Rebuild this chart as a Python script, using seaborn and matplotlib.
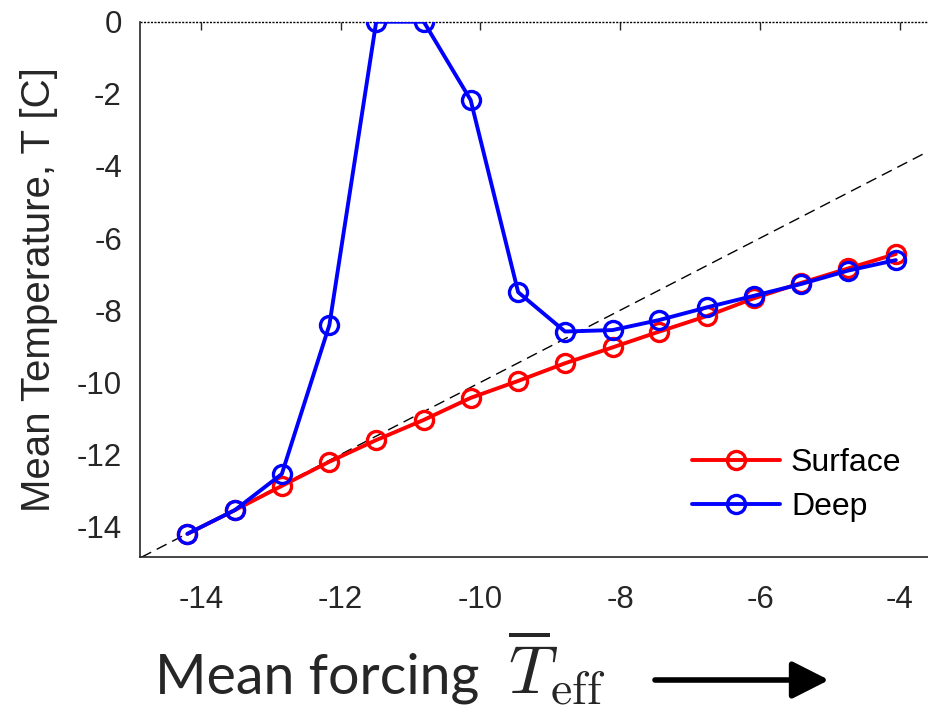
import matplotlib
matplotlib.use("Agg")
import matplotlib.pyplot as plt
import seaborn as sns
import pandas as pd

# ---- data ----
forcing = [-14.19, -13.51, -12.84, -12.16, -11.49, -10.81, -10.14, -9.46,
           -8.79, -8.11, -7.44, -6.76, -6.09, -5.41, -4.74, -4.06]
surface = [-14.20, -13.54, -12.87, -12.20, -11.60, -11.04, -10.43, -9.96,
           -9.47, -9.03, -8.59, -8.16, -7.67, -7.24, -6.84, -6.44]
deep = [-14.20, -13.54, -12.54, -8.41, 0.0, 0.0, -2.17, -7.50,
        -8.59, -8.55, -8.27, -7.92, -7.60, -7.27, -6.90, -6.61]
series_names = ["Surface", "Deep"]
series_colors = ["#ff0000", "#0000ff"]
xticks = [-14, -12, -10, -8, -6, -4]
yticks = [0, -2, -4, -6, -8, -10, -12, -14]

df = pd.DataFrame({"forcing": forcing, "Surface": surface, "Deep": deep})

sns.set_style("white")
plt.rcParams["font.family"] = ["Liberation Sans", "DejaVu Sans"]
plt.rcParams["mathtext.fontset"] = "cm"

fig = plt.figure(figsize=(9.29, 7.10), dpi=100)
ax = fig.add_axes([140 / 929, 1 - 557.3 / 710, 1 - 140 / 929, (557.3 - 21.7) / 710])

# reference line y = x
ax.axline((0, 0), slope=1, color="black", lw=1.0, ls=(0, (8, 4.5)), zorder=1)
# dotted line at T = 0 (top)
ax.axhline(0, color="black", lw=1.0, ls=(0, (1.5, 1)), clip_on=False, zorder=1)

for name, col in zip(series_names, series_colors):
    sns.lineplot(data=df, x="forcing", y=name, sort=False, ax=ax,
                 color=col, linewidth=2.8, marker="o", markersize=13,
                 markerfacecolor="none", markeredgecolor=col,
                 markeredgewidth=2.4, label=name, zorder=3)

ax.set_xlim(-14.868, -3.585)
ax.set_ylim(-14.85, 0)
ax.set_xticks(xticks)
ax.set_xticklabels([str(t) for t in xticks])
ax.set_yticks(yticks)
ax.set_yticklabels([str(t) for t in yticks])

for s in ["right", "top"]:
    ax.spines[s].set_visible(False)
for s in ["left", "bottom"]:
    ax.spines[s].set_color("#262626")
    ax.spines[s].set_linewidth(1.2)

ax.tick_params(axis="both", direction="in", length=6, width=1.0,
               color="#262626", labelcolor="#262626", labelsize=22.5)
ax.tick_params(axis="x", top=True, pad=20)
ax.tick_params(axis="y", pad=13)

ax.set_xlabel("")
ax.set_ylabel("Mean Temperature, T [C]", fontsize=29, color="#262626")
ax.yaxis.set_label_coords(-0.104, 0.5)

leg = ax.legend(loc="center left", bbox_to_anchor=(692 / 929, 1 - 485 / 710),
                bbox_transform=fig.transFigure, frameon=False, fontsize=23,
                handlelength=2.75, handletextpad=0.35, labelspacing=0.42,
                borderaxespad=0, borderpad=0)
for t in leg.get_texts():
    t.set_color("black")

# bottom title with arrow
fig.text(155 / 929, 1 - 693 / 710, "Mean forcing", fontsize=40,
         family=["Lato", "DejaVu Sans"], ha="left", va="baseline")
fig.text(508 / 929, 1 - 693 / 710, r"$\overline{T}_{\rm eff}$", fontsize=49,
         ha="left", va="baseline")
ax.annotate("", xy=(829 / 929, 1 - 680 / 710), xytext=(655 / 929, 1 - 680 / 710),
            xycoords="figure fraction", textcoords="figure fraction",
            arrowprops=dict(arrowstyle="-|>,head_length=0.75,head_width=0.38",
                            lw=4, color="black", shrinkA=0, shrinkB=0,
                            mutation_scale=30))

fig.savefig("out.png", dpi=100)
